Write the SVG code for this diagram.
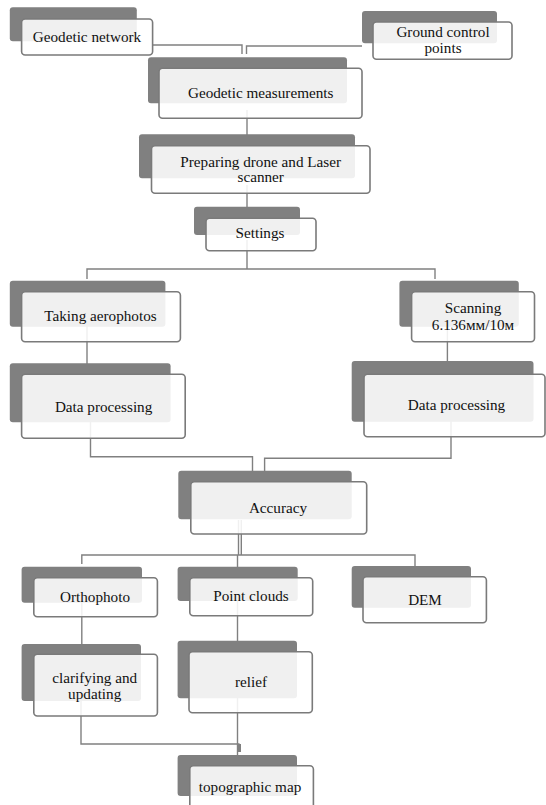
<svg xmlns="http://www.w3.org/2000/svg" width="546" height="805" viewBox="0 0 546 805">
<style>
.sh{fill:#808080}
.bx{fill:#ffffff;fill-opacity:0.88;stroke:#7a7a7a;stroke-width:1.6}
.t{font-family:'Liberation Serif','Times New Roman',serif;font-size:15.2px;fill:#111111;text-anchor:middle}
.c{fill:none;stroke:#808080;stroke-width:1.4}
</style>
<rect fill="#ffffff" x="0" y="0" width="546" height="805"/>
<g id="connectors">
<polyline class="c" points="152.5,45 242,45 242,54"/>
<polyline class="c" points="362,46 246.5,46 246.5,54"/>
<line class="c" x1="247" y1="110" x2="247" y2="135"/>
<line class="c" x1="247" y1="185" x2="247" y2="207"/>
<line class="c" x1="247" y1="240" x2="247" y2="269"/>
<polyline class="c" points="87,279 87,269 435,269 435,279"/>
<line class="c" x1="87" y1="320" x2="87" y2="364"/>
<line class="c" x1="447.4" y1="320" x2="447.4" y2="362"/>
<polyline class="c" points="90.5,420 90.5,456.7 252.5,456.7 252.5,471"/>
<polyline class="c" points="451,420 451,458.3 264.6,458.3 264.6,471"/>
<line class="c" x1="238.5" y1="520" x2="238.5" y2="555"/>
<line class="c" x1="241.3" y1="520" x2="241.3" y2="555"/>
<polyline class="c" points="81.8,564 81.8,555 415,555 415,567"/>
<line class="c" x1="237.5" y1="555" x2="237.5" y2="567"/>
<line class="c" x1="81.8" y1="600" x2="81.8" y2="645"/>
<line class="c" x1="237.5" y1="600" x2="237.5" y2="641"/>
<polyline class="c" points="81,700 81,744 239.6,744"/>
<line class="c" x1="237.5" y1="698" x2="237.5" y2="755"/>
<rect x="237" y="744" width="4" height="8" fill="#808080"/>
</g>
<g id="n-geodetic-network">
<rect class="sh" x="9.8" y="7.3" width="127" height="34" rx="3"/>
<rect class="bx" x="21.6" y="19" width="131" height="36" rx="3.5"/>
<text class="t" x="87" y="42">Geodetic network</text>
</g>
<g id="n-ground-control">
<rect class="sh" x="362" y="11" width="135" height="32.3" rx="3"/>
<rect class="bx" x="373" y="22" width="139" height="37.3" rx="3.5"/>
<text class="t" x="443" y="36.8">Ground control</text>
<text class="t" x="443" y="53">points</text>
</g>
<g id="n-geodetic-measurements">
<rect class="sh" x="148" y="57.3" width="199" height="46" rx="3"/>
<rect class="bx" x="159" y="68.3" width="203" height="50" rx="3.5"/>
<text class="t" x="260.7" y="97.5">Geodetic measurements</text>
</g>
<g id="n-preparing">
<rect class="sh" x="139" y="134.3" width="216" height="44" rx="3"/>
<rect class="bx" x="151.5" y="145.7" width="218.5" height="47.6" rx="3.5"/>
<text class="t" x="260.7" y="166.7">Preparing drone and Laser</text>
<text class="t" x="260.7" y="182.3">scanner</text>
</g>
<g id="n-settings">
<rect class="sh" x="194" y="206.7" width="106" height="28.3" rx="3"/>
<rect class="bx" x="206" y="218.3" width="110" height="32.4" rx="3.5"/>
<text class="t" x="260" y="238">Settings</text>
</g>
<g id="n-taking-aerophotos">
<rect class="sh" x="9.8" y="280.7" width="155.6" height="46" rx="3"/>
<rect class="bx" x="21.6" y="291.7" width="158.8" height="50" rx="3.5"/>
<text class="t" x="100.5" y="321">Taking  aerophotos</text>
</g>
<g id="n-scanning">
<rect class="sh" x="399.4" y="280.7" width="119.4" height="46" rx="3"/>
<rect class="bx" x="411.6" y="291.7" width="122.9" height="50" rx="3.5"/>
<text class="t" x="473" y="313.3">Scanning</text>
<text class="t" x="473" y="329.7">6.136мм/10м</text>
</g>
<g id="n-data-processing-left">
<rect class="sh" x="9.8" y="363.3" width="160.8" height="59" rx="3"/>
<rect class="bx" x="21.6" y="374.3" width="163.6" height="64" rx="3.5"/>
<text class="t" x="103.6" y="411.7">Data processing</text>
</g>
<g id="n-data-processing-right">
<rect class="sh" x="351.7" y="361" width="181.8" height="60.7" rx="3"/>
<rect class="bx" x="364" y="374.3" width="181" height="62.4" rx="3.5"/>
<text class="t" x="456.5" y="410">Data processing</text>
</g>
<g id="n-accuracy">
<rect class="sh" x="178.3" y="470.7" width="173.4" height="48.6" rx="3"/>
<rect class="bx" x="190.8" y="481.7" width="175.9" height="52.3" rx="3.5"/>
<text class="t" x="278" y="512.7">Accuracy</text>
</g>
<g id="n-orthophoto">
<rect class="sh" x="21.6" y="566.7" width="120.4" height="36" rx="3"/>
<rect class="bx" x="33.8" y="577.7" width="123.6" height="39" rx="3.5"/>
<text class="t" x="95" y="601.7">Orthophoto</text>
</g>
<g id="n-point-clouds">
<rect class="sh" x="177.6" y="566.7" width="120.1" height="34.3" rx="3"/>
<rect class="bx" x="189.8" y="577.7" width="122.9" height="38" rx="3.5"/>
<text class="t" x="251" y="600.7">Point clouds</text>
</g>
<g id="n-dem">
<rect class="sh" x="351.7" y="566" width="119.3" height="41.7" rx="3"/>
<rect class="bx" x="363" y="576.7" width="123.4" height="46" rx="3.5"/>
<text class="t" x="425" y="605">DEM</text>
</g>
<g id="n-clarifying">
<rect class="sh" x="21.6" y="644" width="119.4" height="57" rx="3"/>
<rect class="bx" x="33.8" y="654.3" width="123.6" height="61.7" rx="3.5"/>
<text class="t" x="94.7" y="682.5">clarifying  and</text>
<text class="t" x="94.7" y="698.7">updating</text>
</g>
<g id="n-relief">
<rect class="sh" x="177.6" y="640.7" width="119.4" height="57.6" rx="3"/>
<rect class="bx" x="189" y="651.7" width="123.3" height="61" rx="3.5"/>
<text class="t" x="251" y="686.7">relief</text>
</g>
<g id="n-topographic-map">
<rect class="sh" x="177.6" y="755" width="119.4" height="41" rx="3"/>
<rect class="bx" x="189.8" y="765.7" width="123.6" height="48" rx="3.5"/>
<text class="t" x="250" y="791.7">topographic map</text>
</g>
</svg>
